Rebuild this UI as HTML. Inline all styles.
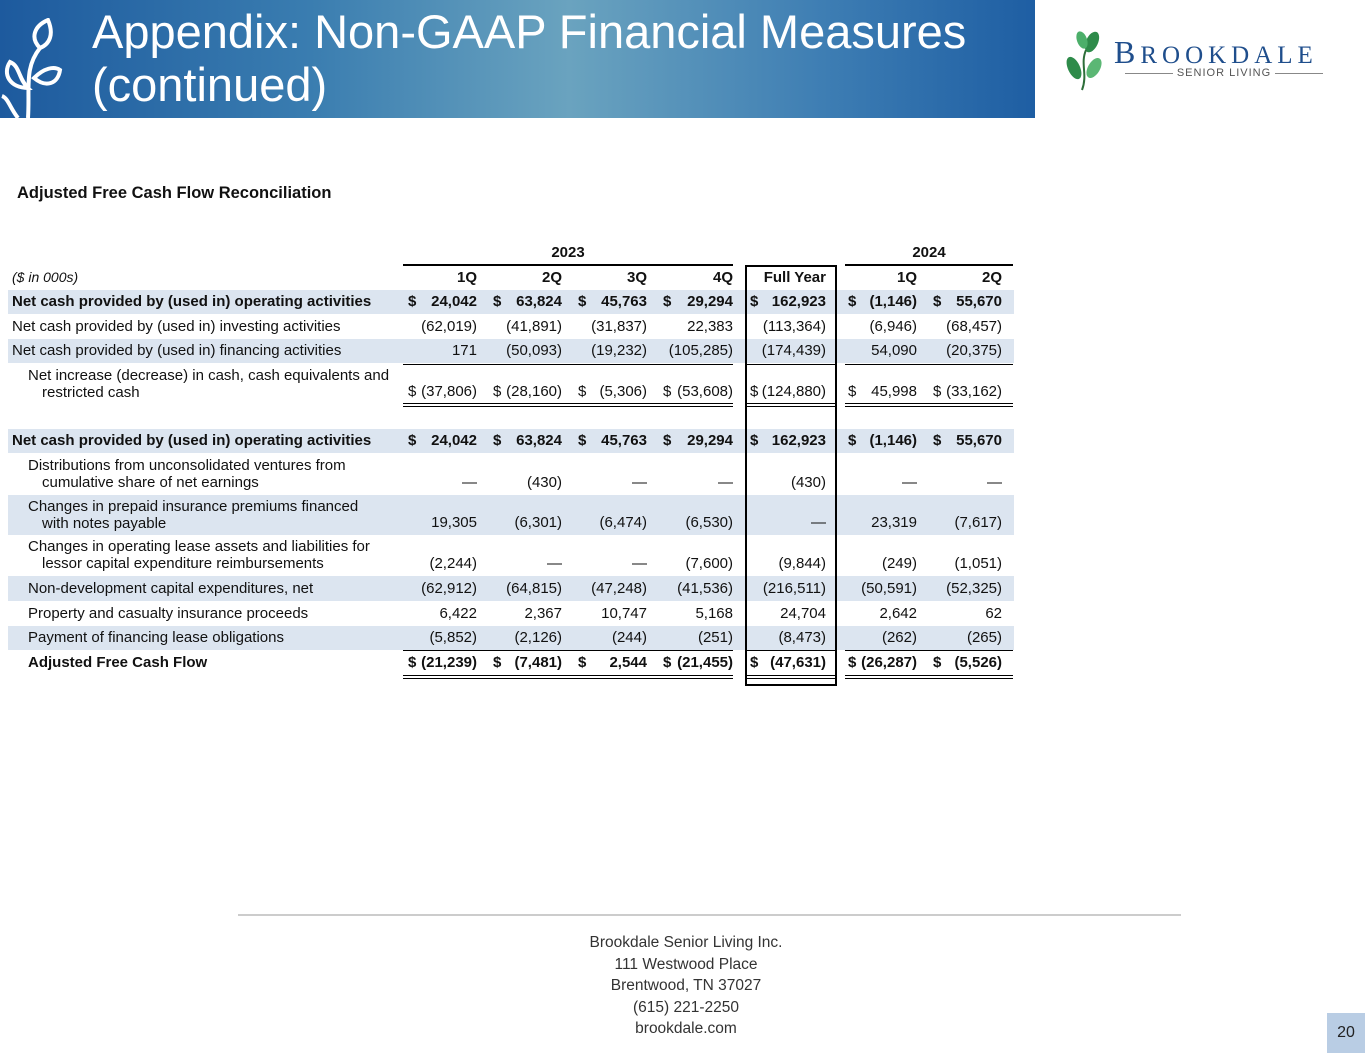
<!DOCTYPE html>
<html><head><meta charset="utf-8">
<style>
body{margin:0;width:1365px;height:1053px;position:relative;background:#fff;font-family:"Liberation Sans",sans-serif;overflow:hidden;color:#111}
.a{position:absolute;white-space:nowrap}
.shade{position:absolute;background:#dce5f0;left:8px;width:1006px}
.ln{position:absolute;background:#000;height:1px}
.cell{position:absolute;font-size:15px;line-height:17px}
.r{text-align:right}
</style></head><body>
<div class="a" style="left:0;top:0;width:1035px;height:118px;background:linear-gradient(90deg,#1d5a9e 0%,#3a7db0 30%,#6aa3bf 55%,#3d7db3 80%,#1e5ea3 100%)"></div>
<svg class="a" style="left:0;top:18px" width="70" height="100" viewBox="0 0 70 100">
<g fill="none" stroke="#fff" stroke-width="4"><path d="M28 100 C30 70 24 50 40 30"/><path d="M40 30 C30 20 34 8 48 2 C54 16 50 26 40 30Z"/><path d="M28 70 C18 60 20 48 10 44 C2 56 10 70 28 70Z"/><path d="M34 60 C44 50 54 48 60 52 C58 66 46 70 34 60Z"/><path d="M18 100 C10 90 8 80 2 78"/></g></svg>
<div class="a" style="left:92px;top:5px;color:#fff;font-size:47px;line-height:53px;letter-spacing:0px;white-space:normal;width:940px">Appendix: Non-GAAP Financial Measures<br>(continued)</div>
<svg class="a" style="left:1062px;top:28px" width="44" height="64" viewBox="0 0 44 64">
<g fill="#2e8b4a"><ellipse cx="30" cy="14" rx="6" ry="11" transform="rotate(25 30 14)"/><ellipse cx="20" cy="12" rx="5" ry="9" transform="rotate(-20 20 12)" fill="#4caf6a"/><ellipse cx="12" cy="40" rx="6" ry="12" transform="rotate(-25 12 40)"/><ellipse cx="32" cy="40" rx="6" ry="11" transform="rotate(30 32 40)" fill="#5bb774"/></g>
<path d="M24 22 C18 36 26 46 20 62" stroke="#2e6e3a" stroke-width="2" fill="none"/></svg>
<div class="a" style="left:1114px;top:34px;font-family:'Liberation Serif',serif;font-size:32px;color:#1f4e8c;letter-spacing:5px">B<span style="font-size:25px">ROOKDALE</span></div>
<div class="a" style="left:1116px;top:67px;width:216px;font-size:11px;color:#555;letter-spacing:1px;text-align:center"><span style="display:inline-block;width:48px;height:1px;background:#888;vertical-align:middle;margin-right:4px"></span>SENIOR LIVING<span style="display:inline-block;width:48px;height:1px;background:#888;vertical-align:middle;margin-left:4px"></span></div>

<div class="a" style="left:17px;top:184px;font-size:16.5px;font-weight:bold">Adjusted Free Cash Flow Reconciliation</div>

<div id="tbl"></div>

<div class="a" style="left:238px;top:914px;width:943px;height:2px;background:#ccc"></div>
<div class="a" style="left:486px;top:932px;width:400px;text-align:center;font-size:15.5px;line-height:21.5px;color:#333">Brookdale Senior Living Inc.<br>111 Westwood Place<br>Brentwood, TN 37027<br>(615) 221-2250<br>brookdale.com</div>
<div class="a" style="left:1327px;top:1013px;width:38px;height:40px;background:#b9cde4;font-size:16px;line-height:40px;text-align:center;color:#222">20</div>

<script>
const years = [["2023",403,733],["2024",845,1013]];
const colHeads = ["1Q","2Q","3Q","4Q","Full Year","1Q","2Q"];
const rowLabels = [
 ["Net cash provided by (used in) operating activities"],
 ["Net cash provided by (used in) investing activities"],
 ["Net cash provided by (used in) financing activities"],
 ["Net increase (decrease) in cash, cash equivalents and","restricted cash"],
 ["Net cash provided by (used in) operating activities"],
 ["Distributions from unconsolidated ventures from","cumulative share of net earnings"],
 ["Changes in prepaid insurance premiums financed","with notes payable"],
 ["Changes in operating lease assets and liabilities for","lessor capital expenditure reimbursements"],
 ["Non-development capital expenditures, net"],
 ["Property and casualty insurance proceeds"],
 ["Payment of financing lease obligations"],
 ["Adjusted Free Cash Flow"]
];
const rowValues = [
 ["24,042","63,824","45,763","29,294","162,923","(1,146)","55,670"],
 ["(62,019)","(41,891)","(31,837)","22,383","(113,364)","(6,946)","(68,457)"],
 ["171","(50,093)","(19,232)","(105,285)","(174,439)","54,090","(20,375)"],
 ["(37,806)","(28,160)","(5,306)","(53,608)","(124,880)","45,998","(33,162)"],
 ["24,042","63,824","45,763","29,294","162,923","(1,146)","55,670"],
 ["—","(430)","—","—","(430)","—","—"],
 ["19,305","(6,301)","(6,474)","(6,530)","—","23,319","(7,617)"],
 ["(2,244)","—","—","(7,600)","(9,844)","(249)","(1,051)"],
 ["(62,912)","(64,815)","(47,248)","(41,536)","(216,511)","(50,591)","(52,325)"],
 ["6,422","2,367","10,747","5,168","24,704","2,642","62"],
 ["(5,852)","(2,126)","(244)","(251)","(8,473)","(262)","(265)"],
 ["(21,239)","(7,481)","2,544","(21,455)","(47,631)","(26,287)","(5,526)"]
];
const rowDollar = [1,0,0,1,1,0,0,0,0,0,0,1];
const rowBold = [1,0,0,0,1,0,0,0,0,0,0,1];
const rowIndent = [0,0,0,1,0,1,1,1,1,1,1,1];
const rowTop = [290,315,339,364,429,454,495,535,576,601,626,650];
const rowH = [24,24,24,40,24,41,40,41,25,25,24,25];
const rowShade = [1,0,1,0,1,0,1,0,1,0,1,0];
const colRight = [477,562,647,733,826,917,1002];
const colDollar = [408,493,578,663,750,848,933];
const tbl = document.getElementById('tbl');
function add(html, style, cls){const d=document.createElement('div');d.className=cls||'a';d.style.cssText=style;d.innerHTML=html;tbl.appendChild(d);return d;}
years.forEach(y=>{
 const d=add(y[0],`left:${y[1]}px;top:244px;width:${y[2]-y[1]}px;text-align:center;font-weight:bold`,'cell');
 
 
 const l=add('',`left:${y[1]}px;top:264px;width:${y[2]-y[1]}px;height:2px`,'ln');
 
 
});
const unit=add('<i>($ in 000s)</i>','left:12px;top:269px;font-size:14px','cell');


colHeads.forEach((h,i)=>{
 const w=i==4?86:70;
 const d=add(h,`left:${colRight[i]-w}px;top:269px;width:${w}px;font-weight:bold`,'cell r');
 
 
});
rowLabels.forEach((lab,r)=>{
 if(rowShade[r]){const s=add('',`top:${rowTop[r]}px;height:${rowH[r]}px`,'shade');
  
  }
 const yb=rowTop[r]+rowH[r]-21;
 const fw=rowBold[r]?'bold':'normal';
 const x=rowIndent[r]?28:12;
 let html=lab[0]; if(lab[1]) html+='<br><span style="padding-left:14px">'+lab[1]+'</span>';
 const lt=lab[1]?rowTop[r]+3:yb;
 const d=add(html,`left:${x}px;top:${lt}px;font-weight:${fw}`,'cell');
 
 
 rowValues[r].forEach((v,c)=>{
  const e=add(v,`left:${colRight[c]-90}px;top:${yb}px;width:90px;font-weight:${fw}`,'cell r');
  
  
  if(rowDollar[r]){const s=add('$',`left:${colDollar[c]}px;top:${yb}px;font-weight:${fw}`,'cell');
   
   }
 });
});
[[403,364],[403,403],[403,406],[403,650],[403,675],[403,678]].forEach(a=>{
 const segs=[[a[0],733],[745,837],[845,1013]];
 segs.forEach(s=>{const l=add('',`left:${s[0]}px;top:${a[1]}px;width:${s[1]-s[0]}px`,'ln');
  
  });
});
const box=add('','left:745px;top:265px;width:88px;height:417px;border:2px solid #000','a');


</script>
</body></html>
